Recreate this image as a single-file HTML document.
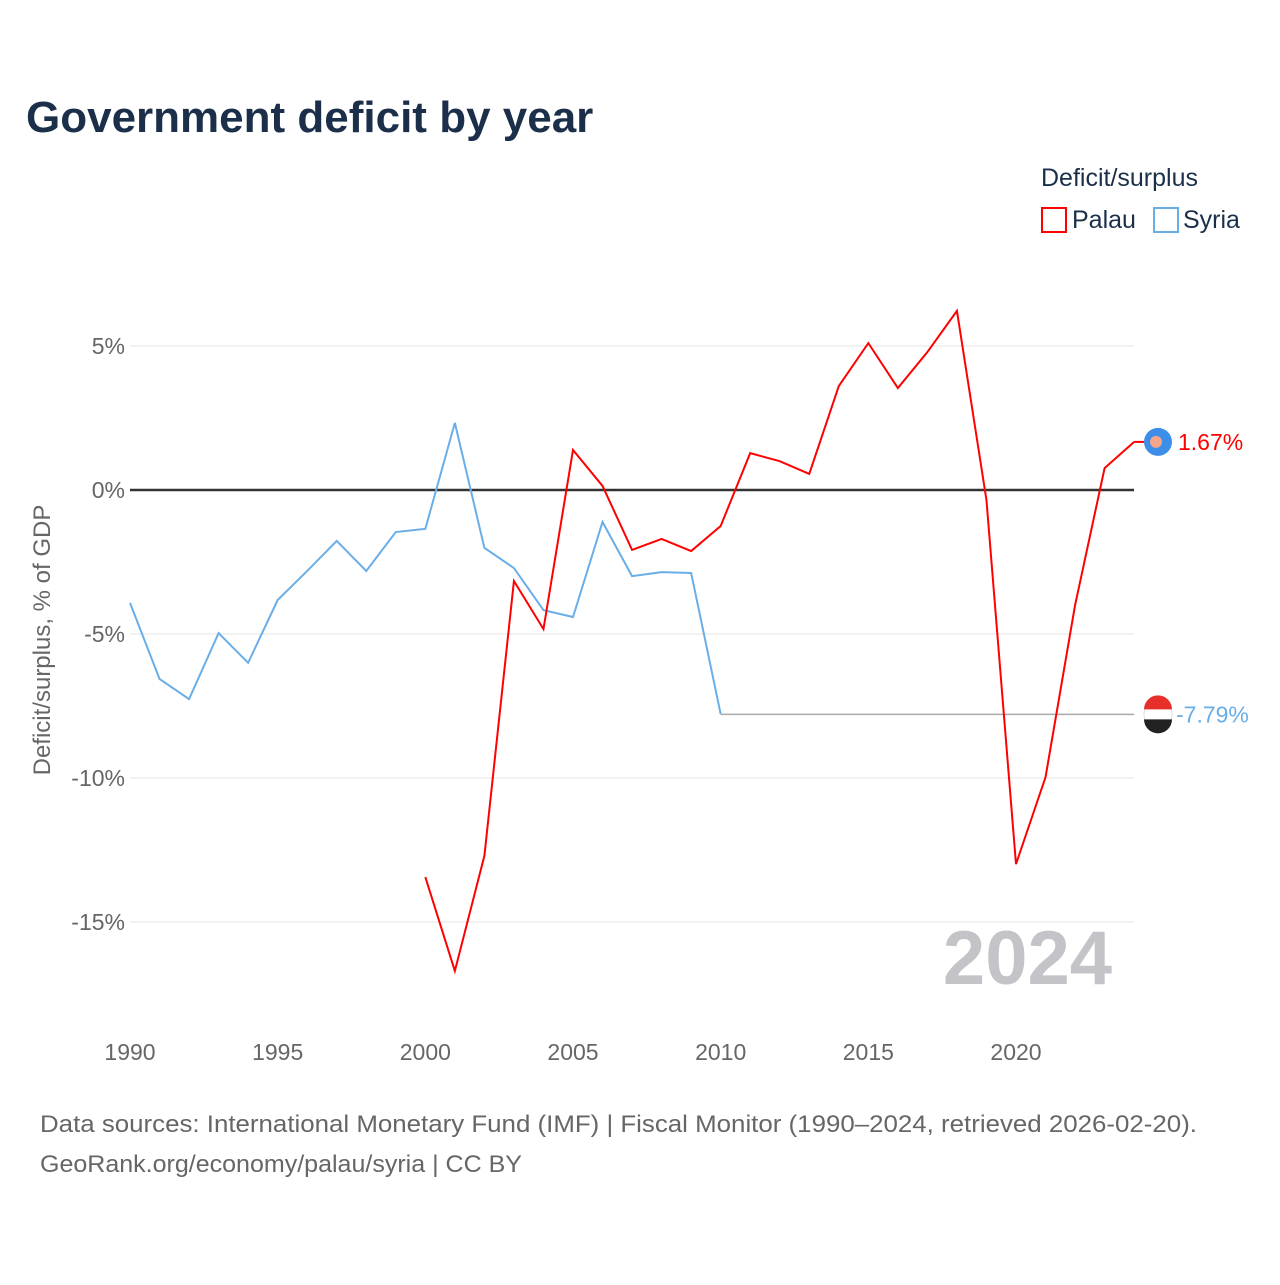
<!DOCTYPE html>
<html><head><meta charset="utf-8"><style>
body{margin:0;background:#fff;font-family:"Liberation Sans",sans-serif}
svg text{font-family:"Liberation Sans",sans-serif}
</style></head><body>
<svg id="chart" width="1280" height="1280" viewBox="0 0 1280 1280">
<text x="26" y="132" font-size="44" font-weight="bold" fill="#1b2f4a">Government deficit by year</text>
<text x="1041" y="186" font-size="25" fill="#1b2f4a">Deficit/surplus</text>
<g><rect x="1042" y="208" width="24" height="24" fill="none" stroke="#ff0000" stroke-width="2"/><text x="1072" y="228" font-size="25" fill="#1b2f4a">Palau</text></g>
<g><rect x="1154" y="208" width="24" height="24" fill="none" stroke="#6aaee8" stroke-width="2"/><text x="1183" y="228" font-size="25" fill="#1b2f4a">Syria</text></g>
<text transform="translate(50,640) rotate(-90)" text-anchor="middle" font-size="24" fill="#666">Deficit/surplus, % of GDP</text>
<text x="1112" y="984" text-anchor="end" font-size="76" font-weight="bold" fill="#c4c4c8">2024</text>
<g id="grid"></g><g id="series"></g>
<text x="40" y="1132" font-size="24" fill="#666" textLength="1157" lengthAdjust="spacingAndGlyphs">Data sources: International Monetary Fund (IMF) | Fiscal Monitor (1990–2024, retrieved 2026-02-20).</text>
<text x="40" y="1172" font-size="24" fill="#666" textLength="482" lengthAdjust="spacingAndGlyphs">GeoRank.org/economy/palau/syria | CC BY</text>
</svg>
<script>
const yTicks=[5,0,-5,-10,-15];
const yTickLabels=["5%","0%","-5%","-10%","-15%"];
const xTicks=[1990,1995,2000,2005,2010,2015,2020];
const syriaYears=[1990,1991,1992,1993,1994,1995,1996,1997,1998,1999,2000,2001,2002,2003,2004,2005,2006,2007,2008,2009,2010];
const syriaValues=[-3.92,-6.56,-7.26,-4.97,-6.0,-3.82,-2.81,-1.77,-2.81,-1.46,-1.35,2.33,-2.01,-2.71,-4.17,-4.41,-1.11,-2.99,-2.85,-2.88,-7.78];
const syriaLatest=-7.79;
const palauYears=[2000,2001,2002,2003,2004,2005,2006,2007,2008,2009,2010,2011,2012,2013,2014,2015,2016,2017,2018,2019,2020,2021,2022,2023,2024];
const palauValues=[-13.44,-16.7,-12.7,-3.16,-4.83,1.39,0.14,-2.08,-1.7,-2.12,-1.25,1.28,1.0,0.56,3.61,5.1,3.54,4.79,6.22,-0.35,-12.99,-9.97,-4.0,0.76,1.67];
const NS="http://www.w3.org/2000/svg";
const X=y=>130+(y-1990)*886/30;
const Y=v=>490-v*28.8;
function mk(t,a,p){const e=document.createElementNS(NS,t);for(const k in a)e.setAttribute(k,a[k]);p.appendChild(e);return e;}
const g=document.getElementById('grid'),s=document.getElementById('series');
yTicks.forEach((v,i)=>{
 const l=mk('line',{x1:130,x2:1134,y1:Y(v),y2:Y(v),stroke:v===0?'#333':'#e4e4e4','stroke-width':v===0?2.5:1},g);
 
 
 const t=mk('text',{x:125,y:Y(v)+8,'text-anchor':'end','font-size':23,fill:'#666'},g);t.textContent=yTickLabels[i];
 
 
});
xTicks.forEach(y=>{const t=mk('text',{x:X(y),y:1060,'text-anchor':'middle','font-size':23,fill:'#666'},g);t.textContent=y;
 
 });
const ext=mk('line',{x1:X(2010),x2:X(2024),y1:Y(syriaLatest),y2:Y(syriaLatest),stroke:'#aaa','stroke-width':1.5},s);


const sp=mk('polyline',{points:syriaYears.map((y,i)=>X(y)+','+Y(syriaValues[i])).join(' '),fill:'none',stroke:'#6aaee8','stroke-width':2},s);


const pp=mk('polyline',{points:palauYears.map((y,i)=>X(y)+','+Y(palauValues[i])).join(' '),fill:'none',stroke:'#ff0000','stroke-width':2},s);


const lp=palauValues[palauValues.length-1];
mk('line',{x1:X(2024),x2:1150,y1:Y(lp),y2:Y(lp),stroke:'#ff0000','stroke-width':2},s);
const pm=mk('circle',{cx:1158,cy:Y(lp),r:14,fill:'#3d8ee8'},s);


mk('circle',{cx:1156,cy:Y(lp),r:6,fill:'#f4a58a'},s);
const pt=mk('text',{x:1178,y:Y(lp)+8,'font-size':23,fill:'#ff0000'},s);pt.textContent=lp.toFixed(2)+'%';


const cy=Y(syriaLatest);
const sm=mk('g',{},s);


mk('circle',{cx:1158,cy:cy,r:14,fill:'#fff',stroke:'#ddd'},sm);
mk('path',{d:`M1144,${cy-5} A14,14 0 0 1 1172,${cy-5} Z`,fill:'#e8302a'},sm);
mk('path',{d:`M1144,${cy+5} A14,14 0 0 0 1172,${cy+5} Z`,fill:'#222'},sm);
const st=mk('text',{x:1176,y:cy+8,'font-size':23,fill:'#6aaee8'},s);st.textContent=syriaLatest.toFixed(2)+'%';


</script>
</body></html>
